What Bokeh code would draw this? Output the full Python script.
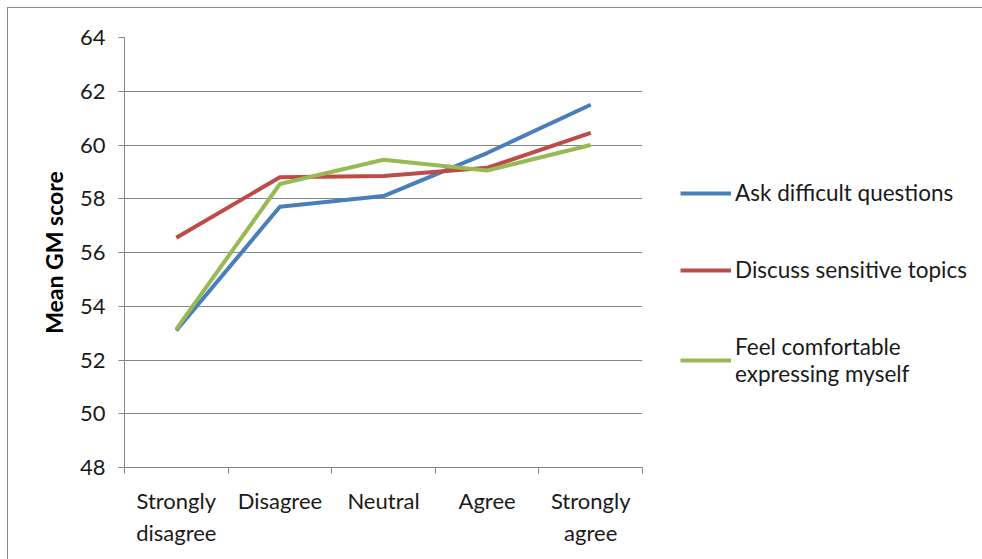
from bokeh.plotting import figure
from bokeh.models import Range1d, FixedTicker, Legend, LegendItem
from bokeh.embed import file_html
from bokeh.resources import INLINE

categories = ["Strongly\ndisagree", "Disagree", "Neutral", "Agree", "Strongly\nagree"]
ask_difficult = [53.1, 57.7, 58.1, 59.7, 61.5]
discuss_sensitive = [56.55, 58.8, 58.85, 59.15, 60.45]
feel_comfortable = [53.15, 58.55, 59.45, 59.05, 60.0]
series_names = ["Ask difficult questions", "Discuss sensitive topics", "Feel comfortable\nexpressing myself"]
y_ticks = [48, 50, 52, 54, 56, 58, 60, 62, 64]

FONT = "Lato"
GRAY = "#868686"

xs = [i + 0.5 for i in range(len(categories))]

p = figure(frame_width=518, frame_height=430, output_backend="svg", toolbar_location=None,
           x_range=Range1d(0, len(categories)), y_range=Range1d(48, 64),
           min_border_left=116, min_border_right=332, min_border_top=29, min_border_bottom=101)
p.styles = {"border-left": "1px solid #8c8c8c", "border-top": "1px solid #8c8c8c",
            "border-right": "1px solid #8c8c8c", "margin-left": "7px", "margin-top": "7px"}
p.outline_line_color = None
p.background_fill_color = "white"
p.border_fill_color = "white"

colors = ["#4A7EBB", "#BE4B48", "#98B954"]
renderers = []
for vals, c in zip([ask_difficult, discuss_sensitive, feel_comfortable], colors):
    r = p.line(xs, vals, line_color=c, line_width=4)
    renderers.append(r)

# x axis
p.xaxis.ticker = FixedTicker(ticks=xs, minor_ticks=list(range(len(categories) + 1)))
p.xaxis.major_label_overrides = {x: c for x, c in zip(xs, categories)}
p.xaxis.major_tick_out = 0
p.xaxis.major_tick_in = 0
p.xaxis.minor_tick_out = 6
p.xaxis.minor_tick_in = 0
p.xaxis.minor_tick_line_color = GRAY
p.xaxis.axis_line_color = GRAY
p.xaxis.major_label_text_font = FONT
p.xaxis.major_label_text_font_size = "22px"
p.xaxis.major_label_text_color = "#1a1a1a"
p.xaxis.major_label_standoff = 13
p.xgrid.grid_line_color = None

# y axis
p.yaxis.ticker = FixedTicker(ticks=y_ticks)
p.yaxis.minor_tick_line_color = None
p.yaxis.major_tick_out = 6
p.yaxis.major_tick_in = 0
p.yaxis.major_tick_line_color = GRAY
p.yaxis.axis_line_color = GRAY
p.yaxis.major_label_text_font = FONT
p.yaxis.major_label_text_font_size = "22px"
p.yaxis.major_label_text_color = "#1a1a1a"
p.yaxis.major_label_standoff = 13
p.yaxis.axis_label = "Mean GM score"
p.yaxis.axis_label_text_font = FONT
p.yaxis.axis_label_text_font_style = "bold"
p.yaxis.axis_label_text_font_size = "23px"
p.yaxis.axis_label_text_color = "#000000"
p.yaxis.axis_label_standoff = 9
p.ygrid.grid_line_color = GRAY
p.ygrid.grid_line_width = 1

legend = Legend(items=[LegendItem(label=n, renderers=[r]) for n, r in zip(series_names, renderers)],
                location=(38, 80), orientation="vertical")
legend.glyph_width = 51
legend.label_text_font = FONT
legend.label_text_font_size = "22.5px"
legend.label_text_color = "#1a1a1a"
legend.label_standoff = 4
legend.spacing = 50
legend.padding = 0
legend.margin = 0
legend.border_line_color = None
legend.background_fill_alpha = 0
p.add_layout(legend, "right")

open("out.html", "w").write(file_html(p, INLINE))
